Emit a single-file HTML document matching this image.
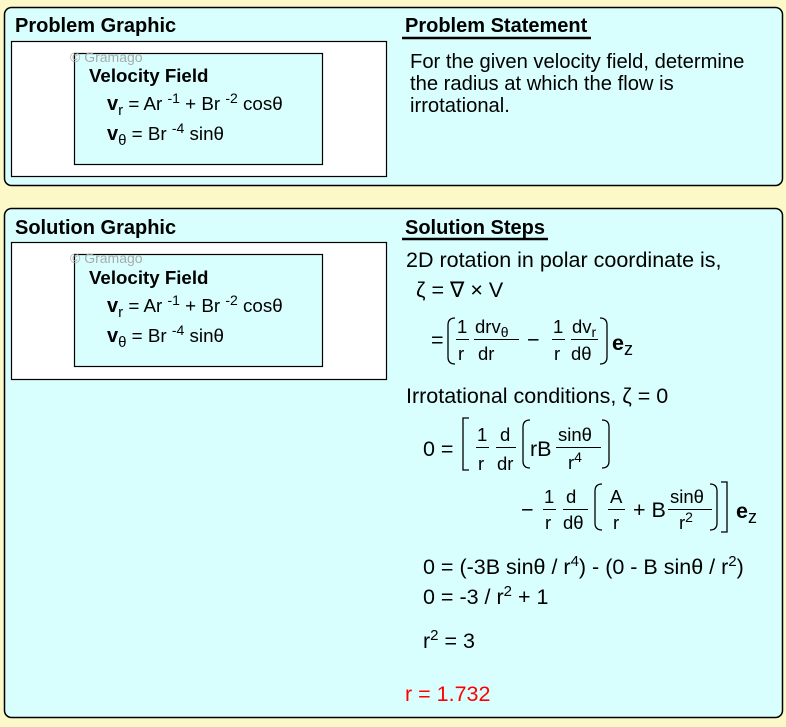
<!DOCTYPE html>
<html><head><meta charset="utf-8"><style>
html,body{margin:0;padding:0;background:#fdf8c8;}
svg{display:block;font-family:"Liberation Sans",Arial,sans-serif;}
.t{font-size:21.5px;fill:#000}
.p{font-size:20.2px;fill:#000}
.s{font-size:18.8px;fill:#000}
.h{font-size:20px;font-weight:bold;fill:#000}
.v{font-size:18.7px;font-weight:bold;fill:#000}
.f{font-size:18.5px;fill:#000}
.g{font-size:14px;fill:#aaa}
</style></head><body>
<svg width="786" height="727" viewBox="0 0 786 727" xmlns="http://www.w3.org/2000/svg">
<rect x="0" y="0" width="786" height="727" fill="#fdf8c8"/>
<!-- top panel -->
<rect x="4.5" y="7.5" width="778" height="178" rx="7" fill="#d9fefe" stroke="#000" stroke-width="1.5"/>
<text x="15" y="32" class="h">Problem Graphic</text>
<rect x="11.5" y="41.5" width="375" height="135" fill="#fff" stroke="#000" stroke-width="1.2"/>
<rect x="74.5" y="53.5" width="248" height="111" fill="#d9fefe" stroke="#000" stroke-width="1.2"/>
<text x="70" y="62" class="g">© Gramago</text>
<text x="89" y="82" class="v">Velocity Field</text>
<text x="107" y="110" class="s"><tspan font-weight="bold" style="font-size:20px">v</tspan><tspan dy="5" style="font-size:15px">r</tspan><tspan dy="-5"> = Ar </tspan><tspan dy="-7" style="font-size:14px">-1</tspan><tspan dy="7"> + Br </tspan><tspan dy="-7" style="font-size:14px">-2</tspan><tspan dy="7"> cosθ</tspan></text>
<text x="107" y="140" class="s"><tspan font-weight="bold" style="font-size:20px">v</tspan><tspan dy="5" style="font-size:15px">θ</tspan><tspan dy="-5"> = Br </tspan><tspan dy="-7" style="font-size:14px">-4</tspan><tspan dy="7"> sinθ</tspan></text>
<text x="405" y="32" class="h">Problem Statement</text>
<line x1="402" y1="38" x2="591" y2="38" stroke="#000" stroke-width="2.5"/>
<text x="410" y="68" class="p">For the given velocity field, determine</text>
<text x="410" y="90" class="p">the radius at which the flow is</text>
<text x="410" y="112" class="p">irrotational.</text>

<!-- bottom panel -->
<rect x="4.5" y="208.5" width="778" height="509" rx="7" fill="#d9fefe" stroke="#000" stroke-width="1.5"/>
<text x="15" y="234" class="h">Solution Graphic</text>
<rect x="11.5" y="242.5" width="375" height="137" fill="#fff" stroke="#000" stroke-width="1.2"/>
<rect x="74.5" y="254.5" width="248" height="112" fill="#d9fefe" stroke="#000" stroke-width="1.2"/>
<text x="70" y="263" class="g">© Gramago</text>
<text x="89" y="284" class="v">Velocity Field</text>
<text x="107" y="312" class="s"><tspan font-weight="bold" style="font-size:20px">v</tspan><tspan dy="5" style="font-size:15px">r</tspan><tspan dy="-5"> = Ar </tspan><tspan dy="-7" style="font-size:14px">-1</tspan><tspan dy="7"> + Br </tspan><tspan dy="-7" style="font-size:14px">-2</tspan><tspan dy="7"> cosθ</tspan></text>
<text x="107" y="342" class="s"><tspan font-weight="bold" style="font-size:20px">v</tspan><tspan dy="5" style="font-size:15px">θ</tspan><tspan dy="-5"> = Br </tspan><tspan dy="-7" style="font-size:14px">-4</tspan><tspan dy="7"> sinθ</tspan></text>

<text x="405" y="234" class="h">Solution Steps</text>
<line x1="402" y1="239" x2="548" y2="239" stroke="#000" stroke-width="2.5"/>

<text x="406" y="267" class="t">2D rotation in polar coordinate is,</text>
<text x="416" y="297" class="t">ζ = ∇ × V</text>

<!-- eq 1 -->
<text x="431" y="347" class="t">=</text>
<path d="M455,318 Q448,318 448,325 L448,357 Q448,364 455,364" fill="none" stroke="#000" stroke-width="1.3"/>
<text x="457" y="333" class="f">1</text><line x1="456" y1="339.5" x2="469" y2="339.5" stroke="#000"/><text x="458" y="360" class="f">r</text>
<text x="475" y="333" class="f">drv<tspan dy="4" style="font-size:14px">θ</tspan></text><line x1="474" y1="339.5" x2="519" y2="339.5" stroke="#000"/><text x="478" y="360" class="f">dr</text>
<text x="527" y="347" class="t">−</text>
<text x="553" y="333" class="f">1</text><line x1="552" y1="339.5" x2="565" y2="339.5" stroke="#000"/><text x="554" y="360" class="f">r</text>
<text x="572" y="333" class="f">dv<tspan dy="4" style="font-size:14px">r</tspan></text><line x1="571" y1="339.5" x2="598" y2="339.5" stroke="#000"/><text x="571" y="360" class="f">dθ</text>
<path d="M600,318 Q607,318 607,325 L607,357 Q607,364 600,364" fill="none" stroke="#000" stroke-width="1.3"/>
<text x="612" y="350" class="t" font-weight="bold">e<tspan dy="5" font-weight="normal" style="font-size:18px">z</tspan></text>

<text x="406" y="403" class="t">Irrotational conditions, ζ = 0</text>

<!-- eq 2 -->
<text x="423" y="456" class="t">0 =</text>
<path d="M469,418 L463,418 L463,470 L469,470" fill="none" stroke="#000" stroke-width="1.3"/>
<text x="477" y="441" class="f">1</text><line x1="476" y1="447.5" x2="489" y2="447.5" stroke="#000"/><text x="478" y="470" class="f">r</text>
<text x="500" y="441" class="f">d</text><line x1="496" y1="447.5" x2="516" y2="447.5" stroke="#000"/><text x="497" y="470" class="f">dr</text>
<path d="M530,420 Q523,420 523,427 L523,461 Q523,468 530,468" fill="none" stroke="#000" stroke-width="1.3"/>
<text x="530" y="456" class="t">rB</text>
<text x="558" y="441" class="f">sinθ</text><line x1="556" y1="447.5" x2="601" y2="447.5" stroke="#000"/><text x="568" y="469" class="f">r<tspan dy="-7" style="font-size:14px">4</tspan></text>
<path d="M602,420 Q609,420 609,427 L609,461 Q609,468 602,468" fill="none" stroke="#000" stroke-width="1.3"/>

<text x="521" y="517" class="t">−</text>
<text x="544" y="503" class="f">1</text><line x1="543" y1="509.5" x2="556" y2="509.5" stroke="#000"/><text x="545" y="529" class="f">r</text>
<text x="566" y="503" class="f">d</text><line x1="563" y1="509.5" x2="588" y2="509.5" stroke="#000"/><text x="563" y="529" class="f">dθ</text>
<path d="M602,484 Q595,484 595,491 L595,523 Q595,530 602,530" fill="none" stroke="#000" stroke-width="1.3"/>
<text x="610" y="503" class="f">A</text><line x1="608" y1="509.5" x2="625" y2="509.5" stroke="#000"/><text x="613" y="529" class="f">r</text>
<text x="633" y="517" class="t">+ B</text>
<text x="670" y="503" class="f">sinθ</text><line x1="668" y1="509.5" x2="712" y2="509.5" stroke="#000"/><text x="679" y="529" class="f">r<tspan dy="-7" style="font-size:14px">2</tspan></text>
<path d="M710,484 Q717,484 717,491 L717,523 Q717,530 710,530" fill="none" stroke="#000" stroke-width="1.3"/>
<path d="M721,482 L727,482 L727,532 L721,532" fill="none" stroke="#000" stroke-width="1.3"/>
<text x="736" y="518" class="t" font-weight="bold">e<tspan dy="5" font-weight="normal" style="font-size:18px">z</tspan></text>

<text x="423" y="574" class="t">0 = (-3B sinθ  / r<tspan dy="-8" style="font-size:15px">4</tspan><tspan dy="8">) - (0 - B sinθ / r</tspan><tspan dy="-8" style="font-size:15px">2</tspan><tspan dy="8">)</tspan></text>
<text x="423" y="604" class="t">0 = -3 / r<tspan dy="-8" style="font-size:15px">2</tspan><tspan dy="8"> + 1</tspan></text>
<text x="423" y="648" class="t">r<tspan dy="-8" style="font-size:15px">2</tspan><tspan dy="8"> = 3</tspan></text>
<text x="405" y="701" class="t" style="fill:#ff0000">r = 1.732</text>
</svg>
</body></html>
